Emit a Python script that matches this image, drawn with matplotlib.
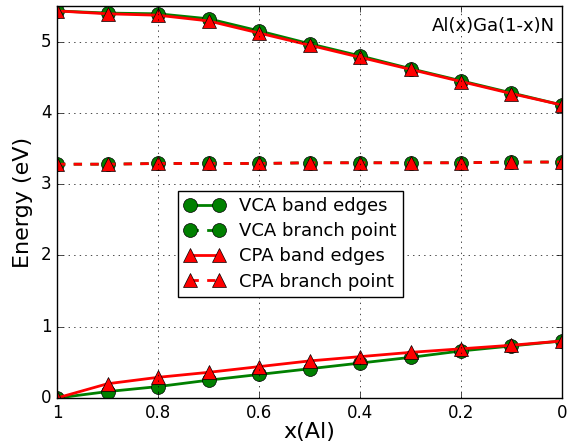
'''
Band edges and branch point of Al(x)Ga(1-x)N, VCA vs CPA.
'''

import numpy as np
import matplotlib
matplotlib.use('Agg')
import matplotlib.pyplot as plt

X_AL = [1.0, 0.9, 0.8, 0.7, 0.6, 0.5, 0.4, 0.3, 0.2, 0.1, 0.0]

# upper band edge (conduction)
VCA_UPPER = [5.43, 5.40, 5.39, 5.32, 5.15, 4.97, 4.80, 4.62, 4.45, 4.28, 4.11]
CPA_UPPER = [5.43, 5.39, 5.37, 5.29, 5.12, 4.95, 4.78, 4.61, 4.44, 4.27, 4.11]

# lower band edge (valence)
VCA_LOWER = [0.0, 0.09, 0.16, 0.25, 0.33, 0.41, 0.49, 0.57, 0.66, 0.73, 0.80]
CPA_LOWER = [0.0, 0.20, 0.29, 0.36, 0.44, 0.52, 0.58, 0.64, 0.69, 0.74, 0.80]

# branch point
VCA_BRANCH = [3.28, 3.28, 3.29, 3.29, 3.29, 3.30, 3.30, 3.30, 3.30, 3.31, 3.31]
CPA_BRANCH = [3.28, 3.28, 3.29, 3.29, 3.29, 3.30, 3.30, 3.30, 3.30, 3.31, 3.31]

X_TICKS = [1.0, 0.8, 0.6, 0.4, 0.2, 0.0]
X_TICK_LABELS = ['1', '0.8', '0.6', '0.4', '0.2', '0']
Y_TICKS = [0, 1, 2, 3, 4, 5]


def main():
    plt.style.use('classic')
    plt.rcParams['font.family'] = ['DejaVu Sans']

    fig = plt.figure(figsize=(5.72, 4.44), dpi=100)
    ax = fig.add_axes([0.0997, 0.1036, 0.8828, 0.883])

    green = dict(color='green', marker='o', markersize=10,
                 markerfacecolor='green', markeredgecolor='black', linewidth=2)
    red = dict(color='red', marker='^', markersize=10,
               markerfacecolor='red', markeredgecolor='black', linewidth=2)

    ax.plot(X_AL, VCA_UPPER, '-', label='VCA band edges', **green)
    ax.plot(X_AL, VCA_LOWER, '-', **green)
    ax.plot(X_AL, VCA_BRANCH, '--', label='VCA branch point', **green)
    ax.plot(X_AL, CPA_UPPER, '-', label='CPA band edges', **red)
    ax.plot(X_AL, CPA_LOWER, '-', **red)
    ax.plot(X_AL, CPA_BRANCH, '--', label='CPA branch point', **red)

    ax.set_xlim(1, 0)
    ax.set_ylim(0, 5.5)
    ax.set_xticks(X_TICKS)
    ax.set_xticklabels(X_TICK_LABELS)
    ax.set_yticks(Y_TICKS)
    ax.tick_params(labelsize=12)
    ax.grid(True, linestyle=':', color='black')

    ax.set_xlabel('x(Al)', fontsize=16, labelpad=0)
    ax.set_ylabel('Energy (eV)', fontsize=16, labelpad=6)

    ax.text(0.986, 0.95, 'Al(x)Ga(1-x)N', transform=ax.transAxes,
            ha='right', va='center', fontsize=13)

    ax.legend(loc='lower left', bbox_to_anchor=(0.24, 0.258), numpoints=2,
              fontsize=13, fancybox=False, borderaxespad=0, borderpad=0.35,
              handlelength=2.2, labelspacing=0.4, handletextpad=0.8)

    fig.savefig('out.png', dpi=100)


if __name__ == '__main__':
    main()
